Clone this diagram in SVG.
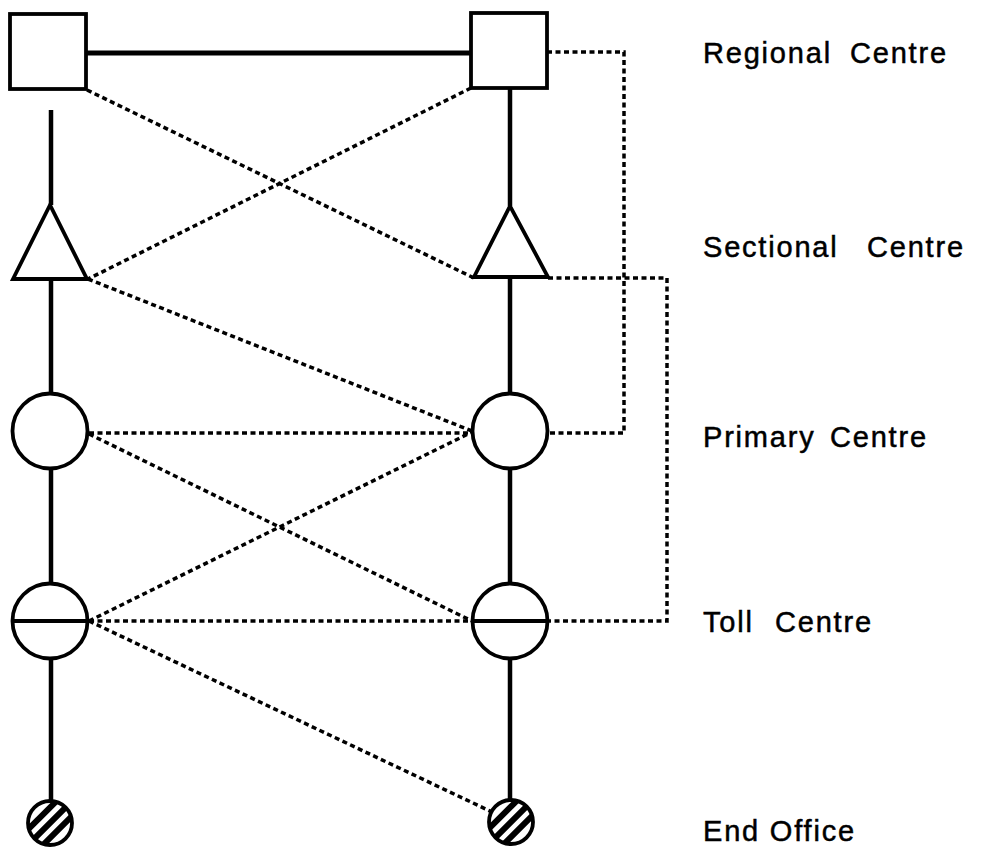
<svg xmlns="http://www.w3.org/2000/svg" width="986" height="847" viewBox="0 0 986 847">
<style>
.solid{stroke:#000;stroke-width:4.5;fill:none;stroke-linecap:butt}
.dot{stroke:#000;stroke-width:3.5;fill:none;stroke-dasharray:5 3.5}
.shape{stroke:#000;stroke-width:3.8;fill:#fff}
.lbl{font-family:"Liberation Sans",Arial,sans-serif;font-size:29px;letter-spacing:1.8px;fill:#000;stroke:#000;stroke-width:0.5}
.hatch{stroke:#000;stroke-width:6}
</style>
<defs>
<clipPath id="clipL"><circle cx="50" cy="823" r="22"/></clipPath>
<clipPath id="clipR"><circle cx="511" cy="822" r="22"/></clipPath>
</defs>
<rect width="986" height="847" fill="#fff"/>
<g id="connectors">
<line class="solid" x1="86" y1="53" x2="471" y2="53" style="stroke-width:5"/>
<line class="solid" x1="51" y1="110" x2="51" y2="205"/>
<line class="solid" x1="51" y1="279" x2="51" y2="393"/>
<line class="solid" x1="51" y1="469" x2="51" y2="583"/>
<line class="solid" x1="51" y1="659" x2="51" y2="801"/>
<line class="solid" x1="510" y1="88" x2="510" y2="206"/>
<line class="solid" x1="510" y1="277" x2="510" y2="393"/>
<line class="solid" x1="510" y1="469" x2="510" y2="583"/>
<line class="solid" x1="510" y1="659" x2="510" y2="800"/>
<line class="dot" x1="87" y1="90" x2="474" y2="278"/>
<line class="dot" x1="471" y1="88" x2="88" y2="279"/>
<line class="dot" x1="88" y1="279" x2="472" y2="431"/>
<line class="dot" x1="89" y1="433" x2="472" y2="433"/>
<line class="dot" x1="89" y1="434" x2="472" y2="621"/>
<line class="dot" x1="89" y1="621" x2="472" y2="432"/>
<line class="dot" x1="89" y1="621" x2="472" y2="621"/>
<line class="dot" x1="89" y1="621" x2="492" y2="812"/>
<polyline class="dot" points="547,52 624,52 624,433 548,433"/>
<polyline class="dot" points="548,278 667,278 667,621 549,621"/>
</g>
<g id="regional-left"><rect class="shape" x="10" y="14" width="76" height="75"/></g>
<g id="regional-right"><rect class="shape" x="471" y="13" width="76" height="75"/></g>
<g id="sectional-left"><polygon class="shape" points="50,205 13,279 87,279"/></g>
<g id="sectional-right"><polygon class="shape" points="510,206 474,277 548,277"/></g>
<g id="primary-left"><circle class="shape" cx="50" cy="431" r="37.5"/></g>
<g id="primary-right"><circle class="shape" cx="510" cy="431" r="37.5"/></g>
<g id="toll-left"><circle class="shape" cx="50" cy="621" r="37.5"/><line class="solid" x1="13" y1="621" x2="88" y2="621" style="stroke-width:3.8"/></g>
<g id="toll-right"><circle class="shape" cx="510" cy="621" r="37.5"/><line class="solid" x1="473" y1="621" x2="548" y2="621" style="stroke-width:3.8"/></g>
<g id="end-left">
<circle cx="50" cy="823" r="22" fill="#fff"/>
<g clip-path="url(#clipL)">
<line class="hatch" x1="2" y1="855.6" x2="82.6" y2="775"/>
<line class="hatch" x1="10" y1="863" x2="90" y2="783"/>
<line class="hatch" x1="17.4" y1="870.6" x2="97.6" y2="790.4"/>
</g>
<circle cx="50" cy="823" r="22" fill="none" stroke="#000" stroke-width="3.8"/>
</g>
<g id="end-right">
<circle cx="511" cy="822" r="22" fill="#fff"/>
<g clip-path="url(#clipR)">
<line class="hatch" x1="463" y1="854.6" x2="543.6" y2="774"/>
<line class="hatch" x1="471" y1="862" x2="551" y2="782"/>
<line class="hatch" x1="478.4" y1="869.6" x2="558.6" y2="789.4"/>
</g>
<circle cx="511" cy="822" r="22" fill="none" stroke="#000" stroke-width="3.8"/>
</g>
<g id="labels">
<text class="lbl" x="703" y="63">Regional<tspan x="850">Centre</tspan></text>
<text class="lbl" x="703" y="257">Sectional<tspan x="867">Centre</tspan></text>
<text class="lbl" x="703" y="447">Primary<tspan x="830">Centre</tspan></text>
<text class="lbl" x="703" y="632">Toll<tspan x="775">Centre</tspan></text>
<text class="lbl" x="703" y="841">End Office</text>
</g>
</svg>
